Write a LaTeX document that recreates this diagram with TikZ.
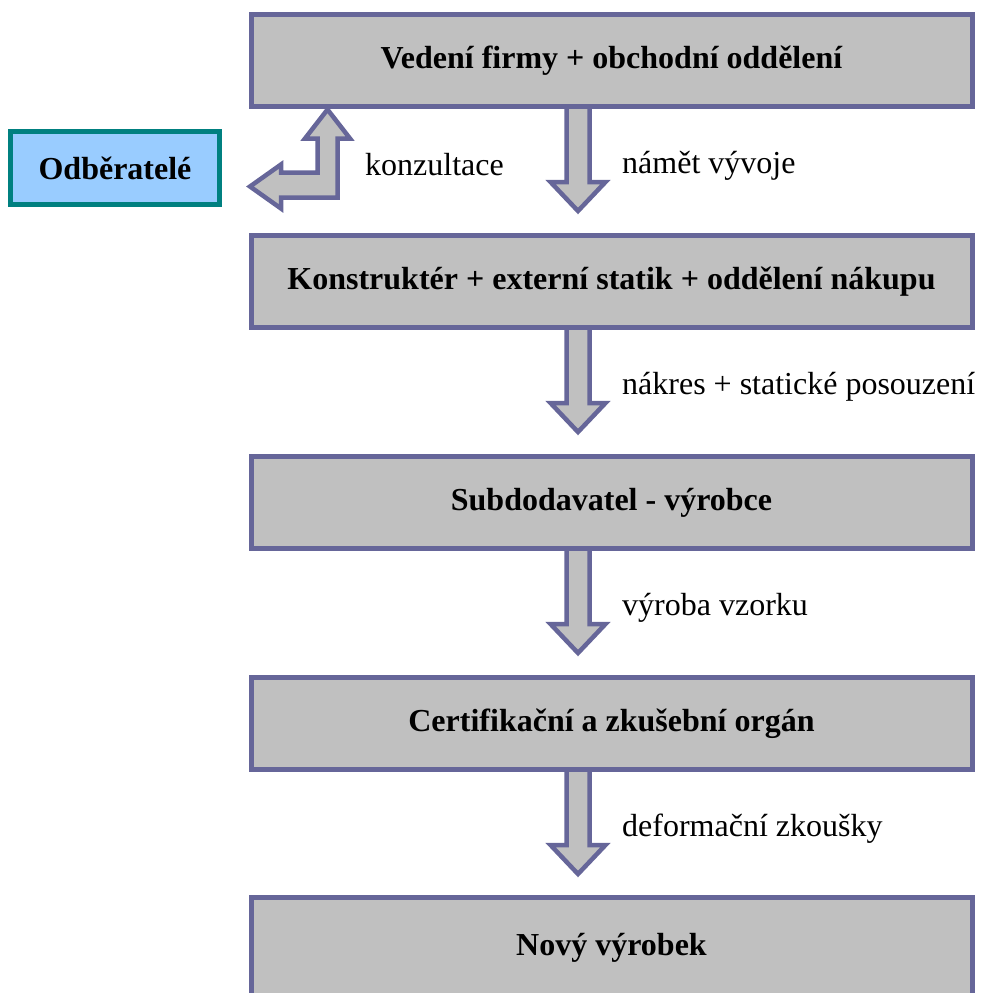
\documentclass[tikz,border=0pt]{standalone}
\usepackage{fontspec}
\setmainfont{Liberation Serif}
\usetikzlibrary{positioning, calc, backgrounds}

\definecolor{ramecek}{RGB}{102,102,153}
\definecolor{vypln}{RGB}{192,192,192}
\definecolor{modra}{RGB}{153,204,255}
\definecolor{tyrkys}{RGB}{0,128,128}

\begin{document}
\begin{tikzpicture}[x=1pt, y=-1pt, node distance=221pt]
    % Styly
    \tikzstyle{krok} = [rectangle, minimum width=721pt, minimum height=92pt, text centered, draw=ramecek, line width=5pt, fill=vypln, font=\fontsize{32}{38}\selectfont\bfseries]
    \tikzstyle{zakaznik} = [rectangle, minimum width=209pt, minimum height=73pt, text centered, draw=tyrkys, line width=5pt, fill=modra, font=\fontsize{32}{38}\selectfont\bfseries]
    \tikzstyle{sipka} = [draw=ramecek, fill=vypln, line width=4.5pt, line join=miter]
    \tikzstyle{popis} = [inner sep=0pt, font=\fontsize{32}{38}\selectfont]
    \tikzset{pics/dolu/.style={code={
        \draw[sipka] (-11.5,0) -- (-11.5,73) -- (-27.5,73) -- (0,102) -- (27.5,73) -- (11.5,73) -- (11.5,0);
        \node[popis, anchor=west] at (44,57) {#1};
    }}}

    \useasboundingbox (0,0) rectangle (980,993);

    % Uzly
    \node (vedeni) [krok] at (611.5,60.5) {Vedení firmy + obchodní oddělení};
    \node (konstrukter) [krok, below of=vedeni] {Konstruktér + externí statik + oddělení nákupu};
    \node (vyrobce) [krok, below of=konstrukter] {Subdodavatel - výrobce};
    \node (certifikace) [krok, below of=vyrobce] {Certifikační a zkušební orgán};
    \node (vyrobek) [krok, below of=certifikace, minimum height=100pt, yshift=-3pt] {Nový výrobek};
    \node (odberatele) [zakaznik] at (115,168) {Odběratelé};

    % Šipky
    \begin{pgfonlayer}{background}
        \pic at ($(vedeni.south)+(-33.5,0)$) {dolu={námět vývoje}};
        \pic at ($(konstrukter.south)+(-33.5,0)$) {dolu={nákres + statické posouzení}};
        \pic at ($(vyrobce.south)+(-33.5,0)$) {dolu={výroba vzorku}};
        \pic at ($(certifikace.south)+(-33.5,0)$) {dolu={deformační zkoušky}};

        % Konzultace s odběrateli
        \draw[sipka] ($(vedeni.south)+(-284,0.5)$) -- ++(22.5,29) -- ++(-12.5,0) -- ++(0,59) -- ++(-56.5,0)
            -- ++(0,11) -- ++(-31,-22) -- ++(31,-22) -- ++(0,8) -- ++(36.5,0) -- ++(0,-34) -- ++(-12.5,0) -- cycle;
    \end{pgfonlayer}
    \node[popis, anchor=west] at ($(vedeni.south)+(-246.5,55.5)$) {konzultace};

\end{tikzpicture}
\end{document}
